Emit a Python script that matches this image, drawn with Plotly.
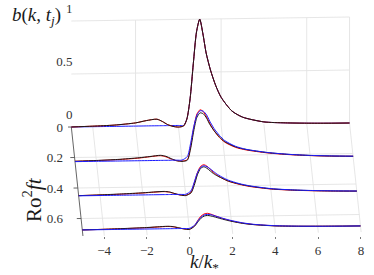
import plotly.graph_objects as go

# ---------------- data ----------------
k_vals = [-5, -4, -3, -2, -1.5, -1, -0.75, -0.5, -0.25, 0, 0.25, 0.4, 0.55, 0.7,
          0.85, 1.0, 1.15, 1.3, 1.5, 1.75, 2, 2.5, 3, 4, 5, 6, 7, 8]
ft_rows = [0.0, 0.225, 0.45, 0.675]

b0_black = [0, 0.005, 0.012, 0.03, 0.05, 0.062, 0.04, 0.01, -0.008, -0.015, -0.005, 0.06, 0.25, 0.58,
            0.88, 1.0, 0.86, 0.68, 0.52, 0.37, 0.26, 0.13, 0.07, 0.022, 0.01, 0.004, 0.001, 0]
b0_red = b0_black
b0_blue = [0, 0, 0, 0, 0, 0, 0, 0, 0, 0, 0, 0.06, 0.25, 0.58,
           0.88, 1.0, 0.86, 0.68, 0.52, 0.37, 0.26, 0.13, 0.07, 0.022, 0.01, 0.004, 0.001, 0]

b1_black = [0, 0.005, 0.012, 0.025, 0.035, 0.045, 0.035, 0.012, -0.008, -0.015, -0.005, 0.1, 0.27, 0.4,
            0.44, 0.43, 0.39, 0.33, 0.27, 0.21, 0.165, 0.115, 0.088, 0.056, 0.036, 0.023, 0.015, 0.01]
b1_red = [0, 0.004, 0.01, 0.022, 0.033, 0.042, 0.03, 0.008, -0.008, -0.012, 0.0, 0.12, 0.3, 0.43,
          0.47, 0.45, 0.4, 0.34, 0.27, 0.205, 0.16, 0.11, 0.084, 0.053, 0.034, 0.022, 0.014, 0.01]
b1_blue = [-0.003, -0.003, -0.003, -0.003, -0.003, -0.003, -0.003, -0.003, -0.003, -0.003, 0.03, 0.15, 0.31, 0.42,
           0.46, 0.455, 0.42, 0.36, 0.29, 0.225, 0.175, 0.12, 0.09, 0.057, 0.037, 0.024, 0.016, 0.011]

b2_black = [0, 0.004, 0.01, 0.018, 0.024, 0.028, 0.022, 0.006, -0.008, -0.014, 0.01, 0.08, 0.18, 0.24,
            0.255, 0.24, 0.215, 0.19, 0.165, 0.14, 0.117, 0.088, 0.066, 0.038, 0.024, 0.015, 0.009, 0.005]
b2_red = [0, 0.003, 0.008, 0.016, 0.022, 0.026, 0.02, 0.005, -0.008, -0.012, 0.015, 0.1, 0.2, 0.26,
          0.275, 0.26, 0.23, 0.2, 0.17, 0.14, 0.115, 0.085, 0.063, 0.036, 0.022, 0.014, 0.008, 0.005]
b2_blue = [-0.002, -0.002, -0.002, -0.002, -0.002, -0.002, -0.002, -0.002, -0.002, -0.002, 0.03, 0.11, 0.2, 0.25,
           0.265, 0.255, 0.235, 0.21, 0.18, 0.15, 0.125, 0.092, 0.069, 0.04, 0.025, 0.016, 0.01, 0.006]

b3_black = [0, 0.003, 0.008, 0.014, 0.019, 0.023, 0.019, 0.008, -0.004, -0.01, 0.02, 0.06, 0.095, 0.115,
            0.12, 0.115, 0.107, 0.098, 0.086, 0.072, 0.06, 0.04, 0.027, 0.012, 0.006, 0.003, 0.001, 0]
b3_red = [0, 0.003, 0.007, 0.012, 0.017, 0.021, 0.017, 0.006, -0.004, -0.008, 0.025, 0.075, 0.115, 0.135,
          0.14, 0.132, 0.12, 0.108, 0.093, 0.077, 0.063, 0.042, 0.028, 0.013, 0.006, 0.003, 0.001, 0]
b3_blue = [0, 0, 0, 0, 0, 0, 0, 0, 0, 0, 0.03, 0.07, 0.105, 0.125,
           0.13, 0.127, 0.118, 0.108, 0.095, 0.08, 0.067, 0.045, 0.03, 0.014, 0.007, 0.003, 0.001, 0]

k_ticks = [-4, -2, 0, 2, 4, 6, 8]
ft_ticks = [0, 0.2, 0.4, 0.6]
ft_tick_text = ["0", "0.2", "0.4", "0.6"]
b_ticks = [0, 0.5, 1]
b_tick_text = ["0", "0.5", "1"]
wall_k = [-2, 2, 6, 8]

# ---------------- oblique "3-D" view ----------------
K_MIN, K_MAX = -5, 8
FT_END = 0.715
SHEAR, FT_FRONT = 0.76, 0.7      # horizontal shift (k units) per unit of ft
DEPTH = 1.4387                   # vertical drop (b units) per unit of ft
TILT = 0.0029                    # slight tilt of the view


def vx(k, ft):
    return k + SHEAR * (ft - FT_FRONT)


def vy(k, ft, b):
    return b - DEPTH * ft + TILT * (k - K_MIN)


FONT = "Liberation Serif, Times New Roman, serif"
GRID = "#e3e3e3"
fig = go.Figure()


def seg_trace(segs, color, width):
    xs, ys = [], []
    for s in segs:
        for (k, ft, b) in s:
            xs.append(vx(k, ft))
            ys.append(vy(k, ft, b))
        xs.append(None)
        ys.append(None)
    fig.add_trace(go.Scatter(x=xs, y=ys, mode="lines", yaxis="y2",
                             line=dict(color=color, width=width),
                             hoverinfo="skip", showlegend=False))


# grid: floor and back wall
grid = []
for f in ft_ticks[1:]:
    grid.append([(K_MIN, f, 0), (K_MAX, f, 0)])
for kt in k_ticks:
    grid.append([(kt, 0, 0), (kt, FT_END, 0)])
for bt in b_ticks[1:]:
    grid.append([(K_MIN, 0, bt), (K_MAX, 0, bt)])
for kt in wall_k:
    grid.append([(kt, 0, 0), (kt, 0, 1)])
seg_trace(grid, GRID, 0.9)

# ft axis line with ticks
axis = [[(K_MIN, 0, 0), (K_MIN, FT_END, 0)]]
for f in ft_ticks:
    axis.append([(K_MIN - 0.2, f, 0), (K_MIN, f, 0)])
seg_trace(axis, "#555555", 0.9)

rows = [
    (ft_rows[0], [("blue", b0_blue), ("red", b0_red), ("black", b0_black)]),
    (ft_rows[1], [("red", b1_red), ("black", b1_black), ("blue", b1_blue)]),
    (ft_rows[2], [("red", b2_red), ("black", b2_black), ("blue", b2_blue)]),
    (ft_rows[3], [("red", b3_red), ("black", b3_black), ("blue", b3_blue)]),
]
colors = {"black": "#1a1a1a", "red": "#ff0000", "blue": "#1a1aff"}
for ft, curves in rows:
    for name, vals in curves:
        fig.add_trace(go.Scatter(
            x=[vx(k, ft) for k in k_vals],
            y=[vy(k, ft, b) for k, b in zip(k_vals, vals)],
            mode="lines", yaxis="y2",
            line=dict(color=colors[name], width=1.0, shape="spline", smoothing=0.7),
            hoverinfo="skip", showlegend=False))

# dummy trace on the ft axis so that it is drawn
fig.add_trace(go.Scatter(x=[0], y=[0], mode="markers", marker=dict(opacity=0),
                         hoverinfo="skip", showlegend=False))

L, R, T, B = 68, 368, 15, 236
W, H = 374, 275
PX_K = 21.4
K0_PX = 189.7
B0_PX, PX_B, PX_FT = 127, 106, 152.5

fig.update_layout(
    width=W, height=H,
    margin=dict(l=L, r=W - R, t=T, b=H - B, pad=0, autoexpand=False),
    plot_bgcolor="white", paper_bgcolor="white",
    font=dict(family=FONT, size=13, color="#262626"),
    xaxis=dict(range=[(L - K0_PX) / PX_K, (R - K0_PX) / PX_K], automargin=False,
               tickvals=k_ticks, ticks="outside", ticklen=2, tickcolor="#777",
               showgrid=False, zeroline=False, showline=False,
               tickfont=dict(size=13, family=FONT, color="#333")),
    yaxis=dict(range=[(B - B0_PX) / PX_FT, (T - B0_PX) / PX_FT], automargin=False,
               tickvals=ft_ticks, ticktext=ft_tick_text, ticks="",
               ticklabelstandoff=4,
               showgrid=False, zeroline=False, showline=False,
               tickfont=dict(size=13, family=FONT, color="#333")),
    yaxis2=dict(range=[(B0_PX - B) / PX_B, (B0_PX - T) / PX_B], automargin=False,
                overlaying="y", anchor="free", side="left", position=0.015,
                tickvals=b_ticks, ticktext=b_tick_text, ticks="",
                ticklabelshift=-13, ticklabelstandoff=0,
                showgrid=False, zeroline=False, showline=False,
                tickfont=dict(size=13, family=FONT, color="#333")),
    annotations=[
        dict(text="<i>b</i>(<i>k</i>, <i>t<sub>j</sub></i>)", xref="paper", yref="paper",
             x=(63 - L) / (R - L), y=(B - 16) / (B - T), xanchor="right", yanchor="middle",
             showarrow=False, font=dict(size=19, family=FONT, color="#1a1a1a")),
        dict(text="Ro<sup>2</sup><i>ft</i>", xref="paper", yref="paper",
             x=(32 - L) / (R - L), y=(B - 200) / (B - T), xanchor="center", yanchor="middle",
             textangle=-90, showarrow=False, font=dict(size=21, family=FONT, color="#1a1a1a")),
        dict(text="<i>k</i>/<i>k</i><sub>*</sub>", xref="paper", yref="paper",
             x=(204 - L) / (R - L), y=(B - 263) / (B - T), xanchor="center", yanchor="middle",
             showarrow=False, font=dict(size=19, family=FONT, color="#1a1a1a")),
    ],
)

fig.write_html("out.html", config={"displayModeBar": False},
               post_script="document.body.style.margin='0';")
